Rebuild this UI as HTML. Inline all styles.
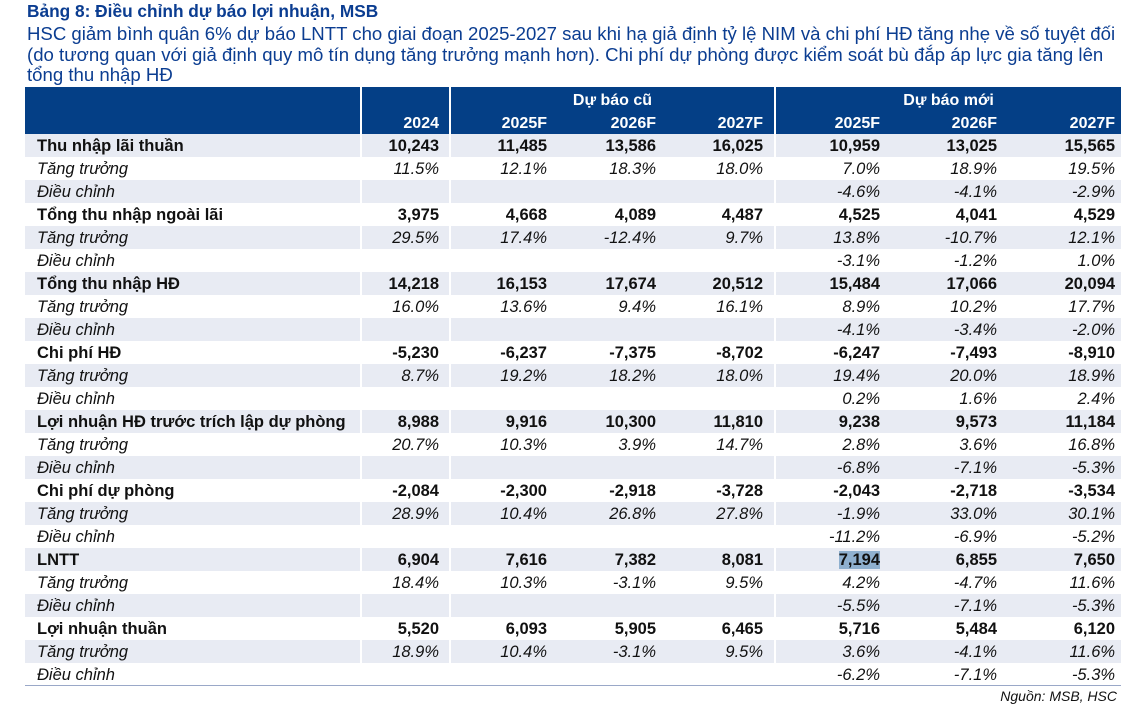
<!DOCTYPE html>
<html><head><meta charset="utf-8"><style>
body{margin:0;width:1147px;height:715px;background:#fff;font-family:"Liberation Sans",Arial,sans-serif;position:relative;overflow:hidden}
.t{position:absolute;left:27px;color:#0b3d91;font-size:18.6px;white-space:nowrap}
table{position:absolute;left:25px;top:87px;border-collapse:collapse;table-layout:fixed;width:1096px;font-size:16.5px}
td{height:21px;padding:2px 0 0 0;text-align:right;line-height:21px;white-space:nowrap;color:#111}
tr.s td{background:#e8ebf3}
td.l{text-align:left;padding-left:12px}
thead td{background:#043f86;color:#fff;font-weight:bold;font-size:16px}
thead tr.h1 td{height:21px;padding-top:3px}
thead tr.h2 td{height:20px;padding-top:2px}
.b td{font-weight:bold}
.i td{font-style:italic}
.c1{padding-right:10px;border-left:2px solid #fff}
.c2{padding-right:11px;border-left:2px solid #fff}
.c3{padding-right:10px}.c4{padding-right:11px}
.c5{padding-right:3px;border-left:2px solid #fff}
.c6{padding-right:5px}.c7{padding-right:6px}
.hl{background:#8fb0cf}
</style></head><body>
<div class="t" style="top:1px;font-weight:bold;font-size:17.3px">Bảng 8: Điều chỉnh dự báo lợi nhuận, MSB</div>
<div class="t" style="top:23px">HSC giảm bình quân 6% dự báo LNTT cho giai đoạn 2025-2027 sau khi hạ giả định tỷ lệ NIM và chi phí HĐ tăng nhẹ về số tuyệt đối</div>
<div class="t" style="top:44px">(do tương quan với giả định quy mô tín dụng tăng trưởng mạnh hơn). Chi phí dự phòng được kiểm soát bù đắp áp lực gia tăng lên</div>
<div class="t" style="top:64px">tổng thu nhập HĐ</div>
<table>
<colgroup><col style="width:336px"><col style="width:89px"><col style="width:108px"><col style="width:108px"><col style="width:109px"><col style="width:108px"><col style="width:119px"><col style="width:119px"></colgroup>
<thead>
<tr class="h1"><td></td><td class="c1"></td><td class="c2" colspan="3" style="text-align:center;padding-right:0">Dự báo cũ</td><td class="c5" colspan="3" style="text-align:center;padding-right:0">Dự báo mới</td></tr>
<tr class="h2"><td></td><td class="c1">2024</td><td class="c2">2025F</td><td class="c3">2026F</td><td class="c4">2027F</td><td class="c5">2025F</td><td class="c6">2026F</td><td class="c7">2027F</td></tr>
</thead>
<tbody>
<tr class="s b"><td class="l">Thu nhập lãi thuần</td><td class="c1">10,243</td><td class="c2">11,485</td><td class="c3">13,586</td><td class="c4">16,025</td><td class="c5">10,959</td><td class="c6">13,025</td><td class="c7">15,565</td></tr>
<tr class="i"><td class="l">Tăng trưởng</td><td class="c1">11.5%</td><td class="c2">12.1%</td><td class="c3">18.3%</td><td class="c4">18.0%</td><td class="c5">7.0%</td><td class="c6">18.9%</td><td class="c7">19.5%</td></tr>
<tr class="s i"><td class="l">Điều chỉnh</td><td class="c1"></td><td class="c2"></td><td class="c3"></td><td class="c4"></td><td class="c5">-4.6%</td><td class="c6">-4.1%</td><td class="c7">-2.9%</td></tr>
<tr class="b"><td class="l">Tổng thu nhập ngoài lãi</td><td class="c1">3,975</td><td class="c2">4,668</td><td class="c3">4,089</td><td class="c4">4,487</td><td class="c5">4,525</td><td class="c6">4,041</td><td class="c7">4,529</td></tr>
<tr class="s i"><td class="l">Tăng trưởng</td><td class="c1">29.5%</td><td class="c2">17.4%</td><td class="c3">-12.4%</td><td class="c4">9.7%</td><td class="c5">13.8%</td><td class="c6">-10.7%</td><td class="c7">12.1%</td></tr>
<tr class="i"><td class="l">Điều chỉnh</td><td class="c1"></td><td class="c2"></td><td class="c3"></td><td class="c4"></td><td class="c5">-3.1%</td><td class="c6">-1.2%</td><td class="c7">1.0%</td></tr>
<tr class="s b"><td class="l">Tổng thu nhập HĐ</td><td class="c1">14,218</td><td class="c2">16,153</td><td class="c3">17,674</td><td class="c4">20,512</td><td class="c5">15,484</td><td class="c6">17,066</td><td class="c7">20,094</td></tr>
<tr class="i"><td class="l">Tăng trưởng</td><td class="c1">16.0%</td><td class="c2">13.6%</td><td class="c3">9.4%</td><td class="c4">16.1%</td><td class="c5">8.9%</td><td class="c6">10.2%</td><td class="c7">17.7%</td></tr>
<tr class="s i"><td class="l">Điều chỉnh</td><td class="c1"></td><td class="c2"></td><td class="c3"></td><td class="c4"></td><td class="c5">-4.1%</td><td class="c6">-3.4%</td><td class="c7">-2.0%</td></tr>
<tr class="b"><td class="l">Chi phí HĐ</td><td class="c1">-5,230</td><td class="c2">-6,237</td><td class="c3">-7,375</td><td class="c4">-8,702</td><td class="c5">-6,247</td><td class="c6">-7,493</td><td class="c7">-8,910</td></tr>
<tr class="s i"><td class="l">Tăng trưởng</td><td class="c1">8.7%</td><td class="c2">19.2%</td><td class="c3">18.2%</td><td class="c4">18.0%</td><td class="c5">19.4%</td><td class="c6">20.0%</td><td class="c7">18.9%</td></tr>
<tr class="i"><td class="l">Điều chỉnh</td><td class="c1"></td><td class="c2"></td><td class="c3"></td><td class="c4"></td><td class="c5">0.2%</td><td class="c6">1.6%</td><td class="c7">2.4%</td></tr>
<tr class="s b"><td class="l">Lợi nhuận HĐ trước trích lập dự phòng</td><td class="c1">8,988</td><td class="c2">9,916</td><td class="c3">10,300</td><td class="c4">11,810</td><td class="c5">9,238</td><td class="c6">9,573</td><td class="c7">11,184</td></tr>
<tr class="i"><td class="l">Tăng trưởng</td><td class="c1">20.7%</td><td class="c2">10.3%</td><td class="c3">3.9%</td><td class="c4">14.7%</td><td class="c5">2.8%</td><td class="c6">3.6%</td><td class="c7">16.8%</td></tr>
<tr class="s i"><td class="l">Điều chỉnh</td><td class="c1"></td><td class="c2"></td><td class="c3"></td><td class="c4"></td><td class="c5">-6.8%</td><td class="c6">-7.1%</td><td class="c7">-5.3%</td></tr>
<tr class="b"><td class="l">Chi phí dự phòng</td><td class="c1">-2,084</td><td class="c2">-2,300</td><td class="c3">-2,918</td><td class="c4">-3,728</td><td class="c5">-2,043</td><td class="c6">-2,718</td><td class="c7">-3,534</td></tr>
<tr class="s i"><td class="l">Tăng trưởng</td><td class="c1">28.9%</td><td class="c2">10.4%</td><td class="c3">26.8%</td><td class="c4">27.8%</td><td class="c5">-1.9%</td><td class="c6">33.0%</td><td class="c7">30.1%</td></tr>
<tr class="i"><td class="l">Điều chỉnh</td><td class="c1"></td><td class="c2"></td><td class="c3"></td><td class="c4"></td><td class="c5">-11.2%</td><td class="c6">-6.9%</td><td class="c7">-5.2%</td></tr>
<tr class="s b"><td class="l">LNTT</td><td class="c1">6,904</td><td class="c2">7,616</td><td class="c3">7,382</td><td class="c4">8,081</td><td class="c5"><span class="hl">7,194</span></td><td class="c6">6,855</td><td class="c7">7,650</td></tr>
<tr class="i"><td class="l">Tăng trưởng</td><td class="c1">18.4%</td><td class="c2">10.3%</td><td class="c3">-3.1%</td><td class="c4">9.5%</td><td class="c5">4.2%</td><td class="c6">-4.7%</td><td class="c7">11.6%</td></tr>
<tr class="s i"><td class="l">Điều chỉnh</td><td class="c1"></td><td class="c2"></td><td class="c3"></td><td class="c4"></td><td class="c5">-5.5%</td><td class="c6">-7.1%</td><td class="c7">-5.3%</td></tr>
<tr class="b"><td class="l">Lợi nhuận thuần</td><td class="c1">5,520</td><td class="c2">6,093</td><td class="c3">5,905</td><td class="c4">6,465</td><td class="c5">5,716</td><td class="c6">5,484</td><td class="c7">6,120</td></tr>
<tr class="s i"><td class="l">Tăng trưởng</td><td class="c1">18.9%</td><td class="c2">10.4%</td><td class="c3">-3.1%</td><td class="c4">9.5%</td><td class="c5">3.6%</td><td class="c6">-4.1%</td><td class="c7">11.6%</td></tr>
<tr class="i"><td class="l">Điều chỉnh</td><td class="c1"></td><td class="c2"></td><td class="c3"></td><td class="c4"></td><td class="c5">-6.2%</td><td class="c6">-7.1%</td><td class="c7">-5.3%</td></tr>
</tbody>
</table>
<div style="position:absolute;left:25px;top:685px;width:1096px;height:1px;background:#9aa8c8"></div>
<div style="position:absolute;right:30px;top:688px;font-size:14px;font-style:italic;color:#111">Nguồn: MSB, HSC</div>
</body></html>
